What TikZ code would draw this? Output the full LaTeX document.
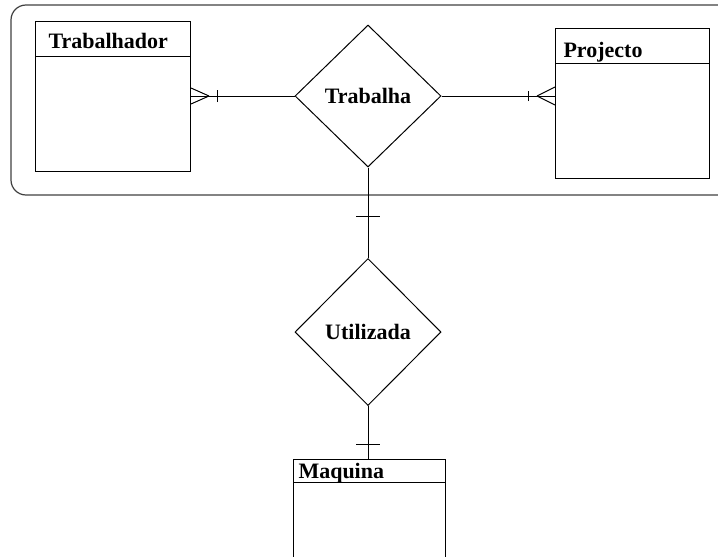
\documentclass[tikz,border=0pt]{standalone}
\usepackage{fontspec}
\setmainfont{Liberation Serif}
\usetikzlibrary{shapes.geometric,positioning}

\begin{document}
\begin{tikzpicture}[x=1pt,y=-1pt,line width=1pt,
    entity/.style={draw,rectangle,anchor=north west,inner sep=0pt},
    relation/.style={draw,diamond,inner sep=0pt,font=\fontsize{22}{26}\selectfont\bfseries},
    title/.style={anchor=base west,inner sep=0pt,font=\fontsize{22}{26}\selectfont\bfseries}]
      \clip (0,0) rectangle (718,557);
      % aggregation
      \draw[black!75,line width=1.2pt,rounded corners=15pt] (11,195) rectangle (745,5);
      \begin{scope}
        \node[entity,minimum width=155pt,minimum height=150pt] (trab) at (35,21) {};
        \draw ([yshift=-35pt]trab.north west) -- ([yshift=-35pt]trab.north east);
        \node[title] (trabt) at ([xshift=13pt,yshift=-27pt]trab.north west) {Trabalhador};
        \node[entity,minimum width=154pt,minimum height=150pt] (proj) at (555,28) {};
        \draw ([yshift=-35pt]proj.north west) -- ([yshift=-35pt]proj.north east);
        \node[title] (projt) at ([xshift=8pt,yshift=-29pt]proj.north west) {Projecto};
        \node[entity,minimum width=152pt,minimum height=140pt] (maq) at (293,459) {};
        \draw ([yshift=-23pt]maq.north west) -- ([yshift=-23pt]maq.north east);
        \node[title] (maqt) at ([xshift=5pt,yshift=-19pt]maq.north west) {Maquina};
      \end{scope}
      \node[relation,minimum width=146pt,minimum height=142pt] (trabalha) at (368,96) {Trabalha};
      \node[relation,minimum width=146pt,minimum height=147pt] (util) at (368,332) {Utilizada};
      % Trabalhador -- Trabalha
      \coordinate (tl) at (trab.east |- trabalha.west);
      \draw (trabalha.west) -- (tl);
      \draw ([xshift=18pt]tl) -- ([yshift=8pt]tl) ([xshift=18pt]tl) -- ([yshift=-8pt]tl);
      \draw ([xshift=26pt,yshift=-6pt]tl) -- ([xshift=26pt,yshift=6pt]tl);
      % Trabalha -- Projecto
      \coordinate (tr) at (proj.west |- trabalha.east);
      \draw (trabalha.east) -- (tr);
      \draw ([xshift=-18pt]tr) -- ([yshift=9pt]tr) ([xshift=-18pt]tr) -- ([yshift=-9pt]tr);
      \draw ([xshift=-27pt,yshift=-5pt]tr) -- ([xshift=-27pt,yshift=5pt]tr);
      % Trabalha -- Utilizada
      \draw (trabalha.south) -- (util.north);
      \draw ([xshift=-12pt,yshift=-49pt]trabalha.south) -- ([xshift=12pt,yshift=-49pt]trabalha.south);
      % Utilizada -- Maquina
      \coordinate (mt) at (maq.north -| util.south);
      \draw (util.south) -- (mt);
      \draw ([xshift=-12pt,yshift=15pt]mt) -- ([xshift=12pt,yshift=15pt]mt);
\end{tikzpicture}
\end{document}
